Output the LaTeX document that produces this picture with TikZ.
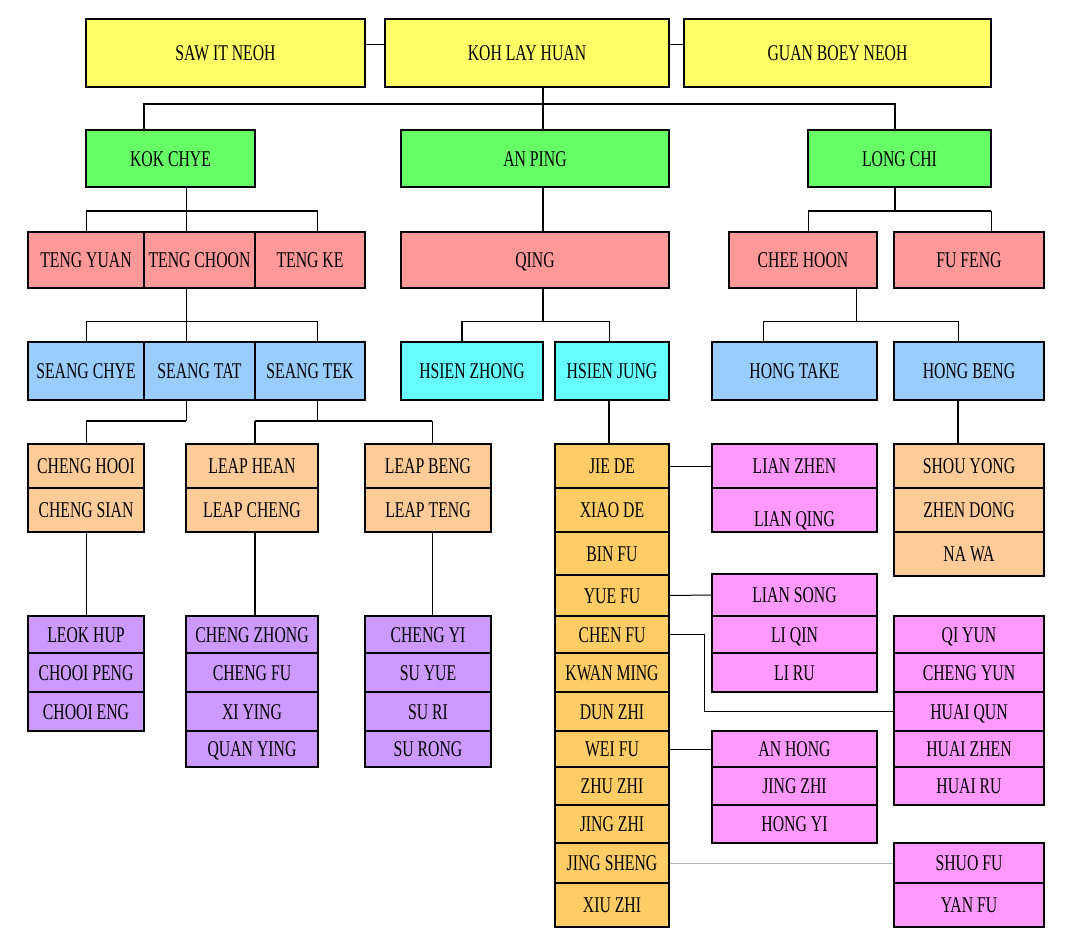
\documentclass[tikz,border=0pt]{standalone}
\usepackage{fontspec}
\setmainfont{Liberation Serif}[FakeStretch=0.70]
\definecolor{famyel}{HTML}{FFFF66}
\definecolor{famgrn}{HTML}{66FF66}
\definecolor{famsal}{HTML}{FF9999}
\definecolor{famblu}{HTML}{99CCFF}
\definecolor{famcya}{HTML}{66FFFF}
\definecolor{fampea}{HTML}{FFCC99}
\definecolor{famgol}{HTML}{FFCC66}
\definecolor{famvio}{HTML}{CC99FF}
\definecolor{fampnk}{HTML}{FF99FF}
\begin{document}
\begin{tikzpicture}
  [x=1pt,y=-1pt,
   every node/.style={draw,line width=1.4pt,inner sep=0pt,
     font=\fontsize{22.5}{24}\selectfont,text height=15pt,text depth=0pt},
   busline/.style={line width=2.2pt},
   thinline/.style={line width=1pt}]
  \fill[white] (0,0) rectangle (1065,939);
  \useasboundingbox (0,0) rectangle (1065,939);

  % generation 1
  \node[fill=famyel,minimum width=279,minimum height=68] (saw) at (225.5,53) {SAW IT NEOH};
  \node[fill=famyel,minimum width=284,minimum height=68] (koh) at (527,53) {KOH LAY HUAN};
  \node[fill=famyel,minimum width=307,minimum height=68] (guan) at (837.5,53) {GUAN BOEY NEOH};

  % generation 2
  \node[fill=famgrn,minimum width=169,minimum height=57] (kokchye) at (170.5,158.5) {KOK CHYE};
  \node[fill=famgrn,minimum width=268,minimum height=57] (anping) at (535,158.5) {AN PING};
  \node[fill=famgrn,minimum width=183,minimum height=57] (longchi) at (899.5,158.5) {LONG CHI};

  % generation 3
  \node[fill=famsal,minimum width=116,minimum height=56] (tengyuan) at (86,260) {TENG YUAN};
  \node[fill=famsal,minimum width=111,minimum height=56] (tengchoon) at (199.5,260) {TENG CHOON};
  \node[fill=famsal,minimum width=110,minimum height=56] (tengke) at (310,260) {TENG KE};
  \node[fill=famsal,minimum width=268,minimum height=56] (qing) at (535,260) {QING};
  \node[fill=famsal,minimum width=148,minimum height=56] (cheehoon) at (803,260) {CHEE HOON};
  \node[fill=famsal,minimum width=150,minimum height=56] (fufeng) at (969,260) {FU FENG};

  % generation 4
  \node[fill=famblu,minimum width=116,minimum height=58] (seangchye) at (86,371) {SEANG CHYE};
  \node[fill=famblu,minimum width=111,minimum height=58] (seangtat) at (199.5,371) {SEANG TAT};
  \node[fill=famblu,minimum width=110,minimum height=58] (seangtek) at (310,371) {SEANG TEK};
  \node[fill=famcya,minimum width=142,minimum height=58] (hsienzhong) at (472,371) {HSIEN ZHONG};
  \node[fill=famcya,minimum width=114,minimum height=58] (hsienjung) at (612,371) {HSIEN JUNG};
  \node[fill=famblu,minimum width=165,minimum height=58] (hongtake) at (794.5,371) {HONG TAKE};
  \node[fill=famblu,minimum width=150,minimum height=58] (hongbeng) at (969,371) {HONG BENG};

  % generation 5
  \foreach \nm/\ya/\yb/\txt in {chenghooi/444/488/CHENG HOOI, chengsian/488/532/CHENG SIAN}
    \node[fill=fampea,minimum width=116,minimum height={\yb-\ya}] (\nm) at (86,{(\ya+\yb)/2}) {\txt};
  \foreach \nm/\ya/\yb/\txt in {leaphean/444/488/LEAP HEAN, leapcheng/488/532/LEAP CHENG}
    \node[fill=fampea,minimum width=132,minimum height={\yb-\ya}] (\nm) at (252,{(\ya+\yb)/2}) {\txt};
  \foreach \nm/\ya/\yb/\txt in {leapbeng/444/488/LEAP BENG, leapteng/488/532/LEAP TENG}
    \node[fill=fampea,minimum width=126,minimum height={\yb-\ya}] (\nm) at (428,{(\ya+\yb)/2}) {\txt};
  \foreach \nm/\ya/\yb/\txt in {shouyong/444/488/SHOU YONG, zhendong/488/532/ZHEN DONG, nawa/532/576/NA WA}
    \node[fill=fampea,minimum width=150,minimum height={\yb-\ya}] (\nm) at (969,{(\ya+\yb)/2}) {\txt};
  \foreach \nm/\ya/\yb/\txt in {jiede/444/488/JIE DE, xiaode/488/532/XIAO DE, binfu/532/575/BIN FU,
      yuefu/575/616/YUE FU, chenfu/616/653/CHEN FU, kwanming/653/692/KWAN MING,
      dunzhi/692/731/DUN ZHI, weifu/731/767/WEI FU, zhuzhi/767/805/ZHU ZHI,
      jingzhi/805/843/JING ZHI, jingsheng/843/883/JING SHENG, xiuzhi/883/927/XIU ZHI}
    \node[fill=famgol,minimum width=114,minimum height={\yb-\ya}] (\nm) at (612,{(\ya+\yb)/2}) {\txt};

  % generation 6
  \node[fill=fampnk,minimum width=165,minimum height=44] (lianzhen) at (794.5,466) {LIAN ZHEN};
  \node[fill=fampnk,minimum width=165,minimum height=44] (lianqing) at (794.5,510) {\raisebox{-9pt}{LIAN QING}};
  \foreach \nm/\ya/\yb/\txt in {liansong/574/616/LIAN SONG, liqin/616/653/LI QIN, liru/653/692/LI RU,
      anhong/731/767/AN HONG, jingzhib/767/805/JING ZHI, hongyi/805/843/HONG YI}
    \node[fill=fampnk,minimum width=165,minimum height={\yb-\ya}] (\nm) at (794.5,{(\ya+\yb)/2}) {\txt};
  \foreach \nm/\ya/\yb/\txt in {qiyun/616/653/QI YUN, chengyun/653/692/CHENG YUN, huaiqun/692/731/HUAI QUN,
      huaizhen/731/767/HUAI ZHEN, huairu/767/805/HUAI RU, shuofu/843/883/SHUO FU, yanfu/883/927/YAN FU}
    \node[fill=fampnk,minimum width=150,minimum height={\yb-\ya}] (\nm) at (969,{(\ya+\yb)/2}) {\txt};
  \foreach \nm/\ya/\yb/\txt in {leokhup/616/653/LEOK HUP, chooipeng/653/692/CHOOI PENG, chooieng/692/731/CHOOI ENG}
    \node[fill=famvio,minimum width=116,minimum height={\yb-\ya}] (\nm) at (86,{(\ya+\yb)/2}) {\txt};
  \foreach \nm/\ya/\yb/\txt in {chengzhong/616/653/CHENG ZHONG, chengfu/653/692/CHENG FU,
      xiying/692/731/XI YING, quanying/731/767/QUAN YING}
    \node[fill=famvio,minimum width=132,minimum height={\yb-\ya}] (\nm) at (252,{(\ya+\yb)/2}) {\txt};
  \foreach \nm/\ya/\yb/\txt in {chengyi/616/653/CHENG YI, suyue/653/692/SU YUE,
      suri/692/731/SU RI, surong/731/767/SU RONG}
    \node[fill=famvio,minimum width=126,minimum height={\yb-\ya}] (\nm) at (428,{(\ya+\yb)/2}) {\txt};

  % couples
  \draw[thinline] ([yshift=8]saw.east) -- ([yshift=8]koh.west);
  \draw[thinline] ([yshift=8]koh.east) -- ([yshift=8]guan.west);

  % children of koh lay huan
  \draw[busline] (koh.south -| 543,0) -- (anping.north -| 543,0);
  \draw[busline] (kokchye.north -| 144,0) |- (543,104) -| (longchi.north -| 895,0);

  % kok chye
  \draw[thinline] (kokchye.south -| 186,0) -- (186,211);
  \draw[busline] (86,211) -- (318,211);
  \foreach \c/\x in {tengyuan/86,tengchoon/186,tengke/317}
    \draw[thinline] (\x,211) -- (\c.north -| \x,0);

  % an ping, long chi
  \draw[busline] (anping.south -| 543,0) -- (qing.north -| 543,0);
  \draw[busline] (longchi.south -| 895,0) -- (895,211);
  \draw[busline] (808,211) -- (991,211);
  \foreach \c/\x in {cheehoon/808,fufeng/991}
    \draw[thinline] (\x,211) -- (\c.north -| \x,0);

  % teng choon
  \draw[thinline] (tengchoon.south -| 186,0) -- (seangtat.north -| 186,0);
  \draw[thinline] (seangchye.north -| 86,0) |- (317,321) -- (seangtek.north -| 317,0);

  % qing
  \draw[busline] (qing.south -| 543,0) -- (543,321);
  \draw[thinline] (462,321) -- (609,321);
  \draw[busline] (462,321) -- (hsienzhong.north -| 462,0);
  \draw[thinline] (609,321) -- (hsienjung.north -| 609,0);

  % chee hoon
  \draw[thinline] (cheehoon.south -| 856,0) -- (856,321);
  \draw[thinline] (hongtake.north -| 763,0) |- (958,321) -- (hongbeng.north -| 958,0);

  % seang tat, seang tek
  \draw[thinline] (seangtat.south -| 186,0) -- (186,421);
  \draw[busline] (186,421) -- (86,421);
  \draw[thinline] (86,421) -- (chenghooi.north -| 86,0);
  \draw[thinline] (seangtek.south -| 317,0) -- (317,421);
  \draw[busline] (255,421) -- (432,421);
  \draw[busline] (255,421) -- (leaphean.north -| 255,0);
  \draw[thinline] (432,421) -- (leapbeng.north -| 432,0);

  % hsien jung, hong beng
  \draw[busline] (hsienjung.south -| 609,0) -- (jiede.north -| 609,0);
  \draw[busline] (hongbeng.south -| 958,0) -- (shouyong.north -| 958,0);

  % grandchildren
  \draw[thinline] (chengsian.south -| 86,0) -- (leokhup.north -| 86,0);
  \draw[busline] (leapcheng.south -| 255,0) -- (chengzhong.north -| 255,0);
  \draw[thinline] (leapteng.south -| 432,0) -- (chengyi.north -| 432,0);

  % jie de and brothers
  \draw[thinline] (jiede.east) -- (lianzhen.west);
  \draw[thinline] (yuefu.east) -- (liansong.west);
  \draw[thinline] (chenfu.east) -- ++(35,0) |- (huaiqun.west);
  \draw[thinline] (weifu.east) -- (anhong.west);
  \draw[thinline,gray!60] (jingsheng.east) -- (shuofu.west);
\end{tikzpicture}
\end{document}
